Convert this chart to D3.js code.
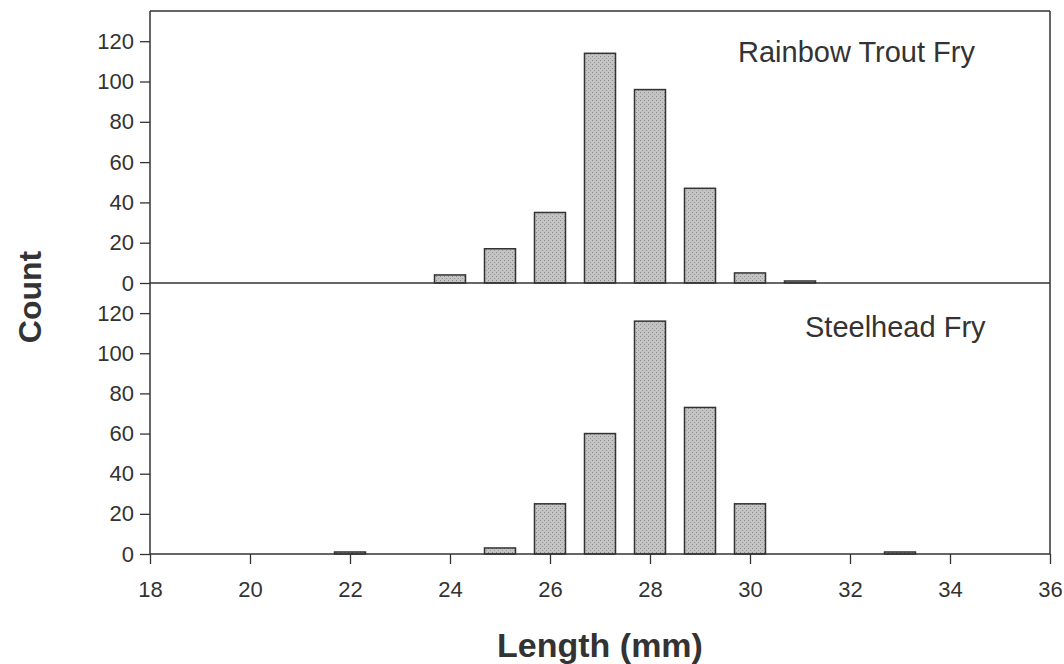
<!DOCTYPE html>
<html><head><meta charset="utf-8">
<script src="https://cdn.jsdelivr.net/npm/d3@7"></script>
<style>
body{margin:0;background:#fff;}
text{font-family:"Liberation Sans",Arial,Helvetica,sans-serif;fill:#333;}
</style></head>
<body><svg id="c" width="1064" height="664"></svg>
<script>
const lengths = [24, 25, 26, 27, 28, 29, 30, 31];
const rainbowCounts = [4, 17, 35, 114, 96, 47, 5, 1];
const steelLengths = [22, 25, 26, 27, 28, 29, 30, 33];
const steelCounts = [1, 3, 25, 60, 116, 73, 25, 1];
const xTicks = [18, 20, 22, 24, 26, 28, 30, 32, 34, 36];
const yTicks = [0, 20, 40, 60, 80, 100, 120];
const panelLabels = ["Rainbow Trout Fry", "Steelhead Fry"];

const svg = d3.select("#c");
const left = 150, right = 1050;
const x = d3.scaleLinear().domain([18, 36]).range([left, right]);
const panels = [
  {top: 11, bottom: 283, lens: lengths, vals: rainbowCounts, label: panelLabels[0], lx: 738, ly: 62},
  {top: 283, bottom: 554, lens: steelLengths, vals: steelCounts, label: panelLabels[1], lx: 805, ly: 337}
];
const ink = "#333";
const barW = 0.62;

// stipple pattern for bars
const defs = svg.append("defs");
const pat = defs.append("pattern").attr("id", "stip").attr("width", 4).attr("height", 4).attr("patternUnits", "userSpaceOnUse");
pat.append("rect").attr("width", 4).attr("height", 4).attr("fill", "#c4c4c4");
pat.append("rect").attr("x", 0).attr("y", 0).attr("width", 1).attr("height", 1).attr("fill", "#8a8a8a");
pat.append("rect").attr("x", 2).attr("y", 2).attr("width", 1).attr("height", 1).attr("fill", "#9a9a9a");

panels.forEach((p, i) => {
  const y = d3.scaleLinear().domain([0, 135]).range([p.bottom, p.top]);
  const g = svg.append("g");
  g.selectAll("rect.bar").data(p.lens.map((l, k) => ({l, v: p.vals[k]})))
    .join("rect").attr("class", "bar")
    .attr("x", d => x(d.l - barW / 2))
    .attr("width", d => x(d.l + barW / 2) - x(d.l - barW / 2))
    .attr("y", d => y(d.v))
    .attr("height", d => y(0) - y(d.v))
    .attr("fill", "url(#stip)").attr("stroke", ink).attr("stroke-width", 1.5);
  const ya = d3.axisLeft(y).tickValues(yTicks).tickSize(10).tickPadding(6);
  const ag = g.append("g").attr("transform", `translate(${left},0)`).call(ya);
  ag.select(".domain").remove();
  ag.selectAll("line").attr("stroke", ink).attr("stroke-width", 1.3);
  ag.selectAll("text").attr("font-size", 22).style("fill", ink);
  g.append("line").attr("x1", left).attr("x2", right).attr("y1", y(0)).attr("y2", y(0)).attr("stroke", ink).attr("stroke-width", 1.5);
  g.append("text").attr("x", p.lx).attr("y", p.ly).attr("font-size", 29).text(p.label);
});

svg.append("line").attr("x1", left).attr("x2", right).attr("y1", 11).attr("y2", 11).attr("stroke", ink).attr("stroke-width", 1.5);
svg.append("line").attr("x1", left).attr("x2", left).attr("y1", 11).attr("y2", 554).attr("stroke", ink).attr("stroke-width", 1.5);
svg.append("line").attr("x1", right).attr("x2", right).attr("y1", 11).attr("y2", 554).attr("stroke", ink).attr("stroke-width", 1.5);

const xa = d3.axisBottom(x).tickValues(xTicks).tickSize(10).tickPadding(17);
const xg = svg.append("g").attr("transform", "translate(0,554)").call(xa);
xg.select(".domain").remove();
xg.selectAll("line").attr("stroke", ink).attr("stroke-width", 1.3);
xg.selectAll("text").attr("font-size", 22).style("fill", ink);

svg.append("text").attr("x", 600).attr("y", 657).attr("text-anchor", "middle")
  .attr("font-size", 34).attr("font-weight", "bold").text("Length (mm)");
svg.append("text").attr("transform", "translate(41,297) rotate(-90)").attr("text-anchor", "middle")
  .attr("font-size", 32).attr("font-weight", "bold").text("Count");
</script></body></html>
